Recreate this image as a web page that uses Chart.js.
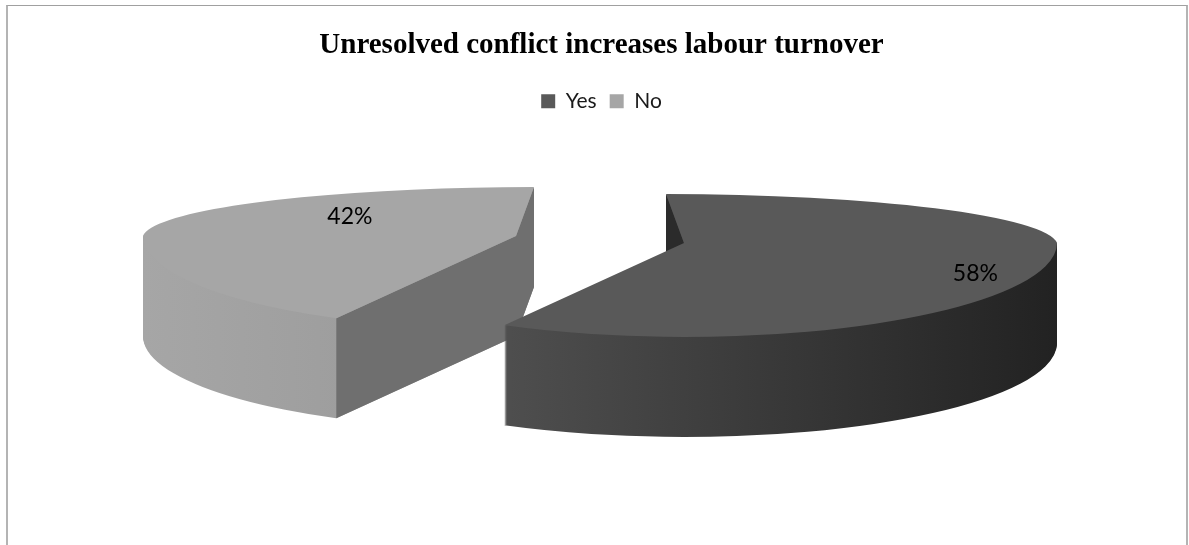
<!DOCTYPE html>
<html>
<head>
<meta charset="utf-8">
<script src="https://cdn.jsdelivr.net/npm/chart.js@4.4.0/dist/chart.umd.min.js"></script>
<style>
  html, body { margin: 0; padding: 0; background: #fff; }
  #wrap { position: relative; width: 1189px; height: 545px; overflow: hidden; }
  #frame { position: absolute; left: 6px; top: 5px; width: 1178px; height: 600px;
           border: 2px solid #b4b4b4; border-top: 1px solid #a0a0a0; }
  canvas { position: absolute; left: 0; top: 0; }
</style>
</head>
<body>
<div id="wrap">
  <div id="frame"></div>
  <canvas id="chart" width="1189" height="545"></canvas>
</div>
<script>
// Chart data
const categories = ['Yes', 'No'];
const shares = [58, 42];

// Colours: top face, curved side (left to right), cut faces
const topColors = ['#595959', '#a6a6a6'];
const rimColors = [['#5e5e5e', '#222222'], ['#a6a6a6', '#888888']];
const cutColors = ['#2b2b2b', '#6f6f6f'];

// Draw the pie as a tilted, exploded 3D pie using the arc elements
const pie3d = {
    id: 'pie3d',
    beforeDatasetsDraw(chart, args, opts) {
        const ctx = chart.ctx;
        const meta = chart.getDatasetMeta(0);
        const total = shares.reduce((a, b) => a + b, 0);
        const mid = arc => (arc.startAngle + arc.endAngle) / 2;

        const slices = meta.data.map((arc, i) => {
            const h = mid(arc);
            return {
                arc, i,
                ox: Math.round(opts.cx + Math.cos(h) * opts.explode),
                oy: Math.round(opts.cy + Math.sin(h) * opts.explode * opts.tilt),
                // far half leans toward the middle of the chart
                shear: Math.cos(h) >= 0 ? opts.lean : -opts.lean
            };
        });

        // back slices first
        slices.slice().sort((a, b) => Math.sin(mid(a.arc)) - Math.sin(mid(b.arc)))
            .forEach(s => drawSlice(ctx, chart.width, s, opts));

        // percentage labels
        ctx.save();
        ctx.font = opts.labelFont;
        ctx.fillStyle = '#000';
        ctx.textAlign = 'center';
        ctx.textBaseline = 'middle';
        slices.forEach(s => {
            const pos = opts.labels[s.i];
            const [x, y] = project(s, opts, pos.angle * Math.PI / 180, pos.r);
            ctx.fillText(Math.round(shares[s.i] / total * 100) + '%', x, y);
        });
        ctx.restore();
        return false;
    }
};

// screen point of a slice at angle a and radius fraction r
function project(s, opts, a, r) {
    const y = r * Math.sin(a) * (Math.sin(a) >= 0 ? opts.ryNear : opts.ryFar);
    let x = r * Math.cos(a) * opts.rx;
    if (y < 0) x += s.shear * y;
    return [s.ox + x, s.oy + y];
}

function drawSlice(ctx, W, s, opts) {
    const { arc, i, ox, oy, shear } = s;
    const R = arc.outerRadius;
    const d = opts.depth;

    const grad = ctx.createLinearGradient(arc.x - R, 0, arc.x + R, 0);
    grad.addColorStop(0, rimColors[i][0]);
    grad.addColorStop(1, rimColors[i][1]);

    const paint = (dy, fill) => {
        const ghost = Object.create(arc);
        ghost.options = Object.assign({}, arc.options, { backgroundColor: fill, borderWidth: 0 });
        const top = oy + dy;
        [[true, opts.ryFar, shear], [false, opts.ryNear, 0]].forEach(([far, ry, sh]) => {
            ctx.save();
            ctx.beginPath();
            if (far) ctx.rect(0, top - 1000, W, 1000);
            else ctx.rect(0, top, W, 1000);
            ctx.clip();
            ctx.translate(ox, top);
            ctx.transform(1, 0, sh, 1, 0, 0);
            ctx.scale(opts.rx / R, ry / R);
            ctx.translate(-arc.x, -arc.y);
            ghost.draw(ctx);
            ctx.restore();
        });
    };

    // radial cut face, drawn only when it faces the viewer
    const face = (a, inward) => {
        const [px, py] = project(s, opts, a, 1);
        const [qx, qy] = project(s, opts, a + inward, 0.5);
        const ex = px - ox, ey = py - oy;
        const cross = ex * (qy - oy) - ey * (qx - ox);
        if (Math.abs(ex) < 0.5 || ex * cross >= 0) return;
        ctx.save();
        if (arc.circumference > Math.PI) {
            // the near wall of a large slice hides the lower part of its cut
            ctx.beginPath();
            ctx.rect(0, 0, W, oy + opts.ryNear / 2);
            ctx.clip();
        }
        ctx.fillStyle = cutColors[i];
        ctx.beginPath();
        ctx.moveTo(ox, oy);
        ctx.lineTo(px, py);
        ctx.lineTo(px, py + d);
        ctx.lineTo(ox, oy + d);
        ctx.closePath();
        ctx.fill();
        ctx.restore();
    };

    for (let dy = d; dy > 0; dy--) paint(dy, grad);
    face(arc.startAngle, 0.15);
    face(arc.endAngle, -0.15);
    paint(0, topColors[i]);
}

new Chart(document.getElementById('chart'), {
    type: 'pie',
    data: {
        labels: categories,
        datasets: [{
            data: shares,
            backgroundColor: topColors,
            borderWidth: 0
        }]
    },
    options: {
        responsive: false,
        animation: false,
        events: [],
        layout: { padding: { left: 14 } },
        plugins: {
            title: {
                display: true,
                text: 'Unresolved conflict increases labour turnover',
                color: '#000',
                font: { family: 'Liberation Serif', size: 29, weight: 'bold' },
                padding: { top: 28, bottom: 15 }
            },
            legend: {
                position: 'top',
                labels: {
                    boxWidth: 14,
                    boxHeight: 14,
                    color: '#1a1a1a',
                    padding: 13,
                    font: { family: 'Lato', size: 21 }
                }
            },
            tooltip: { enabled: false },
            pie3d: {
                cx: 600, cy: 239.5, rx: 373, ryFar: 49, ryNear: 94,
                explode: 87, tilt: 0.16, lean: 0.367, depth: 100,
                labelFont: '23px Lato',
                labels: [{ angle: 22.9, r: 0.848 }, { angle: 219.9, r: 0.605 }]
            }
        }
    },
    plugins: [pie3d]
});
</script>
</body>
</html>
